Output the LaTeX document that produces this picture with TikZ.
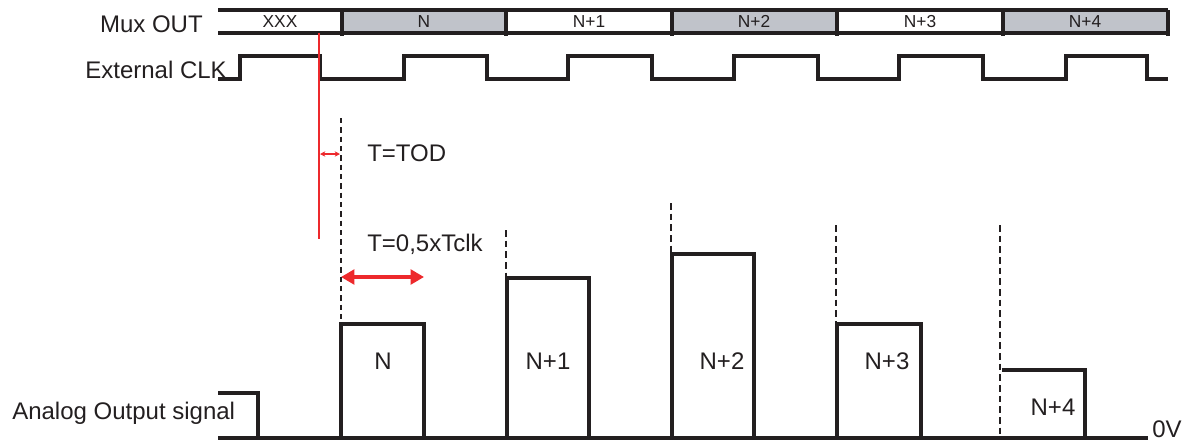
\documentclass[tikz,border=0pt]{standalone}
\usepackage{fontspec}
\setmainfont{Liberation Sans}
\usetikzlibrary{arrows.meta}
\definecolor{busgray}{RGB}{192,195,202}
\definecolor{sigred}{RGB}{237,41,44}
\definecolor{ink}{RGB}{35,31,32}
\tikzset{
  sig/.style={draw=ink, line width=3pt, line cap=butt, line join=miter},
  lbl/.style={inner sep=0pt, text=ink, font=\fontsize{18pt}{20pt}\selectfont},
  buslbl/.style={inner sep=0pt, text=ink, font=\fontsize{13pt}{15pt}\selectfont},
  thindash/.style={draw=ink, line width=1pt, dash pattern=on 4pt off 3pt},
  thickdash/.style={draw=ink, line width=2.2pt, dash pattern=on 5pt off 3pt},
  redthin/.style={draw=sigred, line width=1pt},
}
\begin{document}
\begin{tikzpicture}[x=0.75pt,y=-0.75pt]
\useasboundingbox (0,0) rectangle (1199,444);
% labels
\node[lbl, anchor=base east] (muxl) at (203,32) {Mux OUT};
\node[lbl, anchor=base east] (clkl) at (227,78) {External CLK};
\node[lbl, anchor=base west] (anl) at (12,419) {Analog Output signal};
% bus
\fill[busgray] (342,10) rectangle (506,33);
\fill[busgray] (672,10) rectangle (837,33);
\fill[busgray] (1003,10) rectangle (1168,33);
\draw[sig] (218,10) -- (1168,10);
\draw[sig] (218,33) -- (1168,33);
\foreach \x in {342,506,672,837,1003,1168} \draw[sig] (\x,10) -- (\x,36);
\node[buslbl, anchor=base] (b0) at (280,27) {XXX};
\node[buslbl, anchor=base] (b1) at (424,27) {N};
\node[buslbl, anchor=base] (b2) at (589,27) {N+1};
\node[buslbl, anchor=base] (b3) at (754,27) {N+2};
\node[buslbl, anchor=base] (b4) at (920,27) {N+3};
\node[buslbl, anchor=base] (b5) at (1085,27) {N+4};
% clock
\draw[sig] (218,79) -- (240,79) -- (240,56) -- (320,56) -- (320,79)
  -- (404,79) -- (404,56) -- (487,56) -- (487,79)
  -- (568,79) -- (568,56) -- (652,56) -- (652,79)
  -- (734,79) -- (734,56) -- (818,56) -- (818,79)
  -- (899,79) -- (899,56) -- (983,56) -- (983,79)
  -- (1066,79) -- (1066,56) -- (1147,56) -- (1147,79) -- (1168,79);
% red timing marker
\coordinate (rtop) at (319,33);
\coordinate (rbot) at (319,239);
\draw[redthin] (rtop) -- (rbot);
\coordinate (todL) at (320,154);
\coordinate (todR) at (340,154);
\draw[redthin, {Stealth[length=4pt,width=4pt]}-{Stealth[length=4pt,width=4pt]}] (todL) -- (todR);
\node[lbl, anchor=base west] (tod) at (367,161) {T=TOD};
\node[lbl, anchor=base west] (thalf) at (367,251) {T=0,5xTclk};
\coordinate (hL) at (341,277);
\coordinate (hR) at (424,277);
\draw[draw=sigred, line width=2.4pt, {Triangle[length=10pt,width=11pt]}-{Triangle[length=10pt,width=11pt]}] (hL) -- (hR);
% dashed reference lines
\draw[thindash] (341,118) -- (341,438);
\draw[thickdash] (506,230) -- (506,278);
\draw[thickdash] (671,203) -- (671,254);
\draw[thickdash] (836,225) -- (836,324);
\draw[thickdash] (1000,225) -- (1000,438);
% analog output
\draw[sig] (218,438) -- (1148,438);
\draw[sig] (218,393) -- (258,393) -- (258,438);
\draw[sig] (341,438) -- (341,324) -- (424,324) -- (424,438);
\draw[sig] (507,438) -- (507,278) -- (589,278) -- (589,438);
\draw[sig] (672,438) -- (672,254) -- (754,254) -- (754,438);
\draw[sig] (837,438) -- (837,324) -- (921,324) -- (921,438);
\draw[sig] (1002,370) -- (1085,370) -- (1085,438);
\node[lbl, anchor=base] (pN) at (383,369) {N};
\node[lbl, anchor=base] (pN1) at (548,369) {N+1};
\node[lbl, anchor=base] (pN2) at (722,369) {N+2};
\node[lbl, anchor=base] (pN3) at (887,369) {N+3};
\node[lbl, anchor=base] (pN4) at (1053,415) {N+4};
\node[lbl, anchor=base west] (zero) at (1152,437) {0V};
\end{tikzpicture}
\end{document}
